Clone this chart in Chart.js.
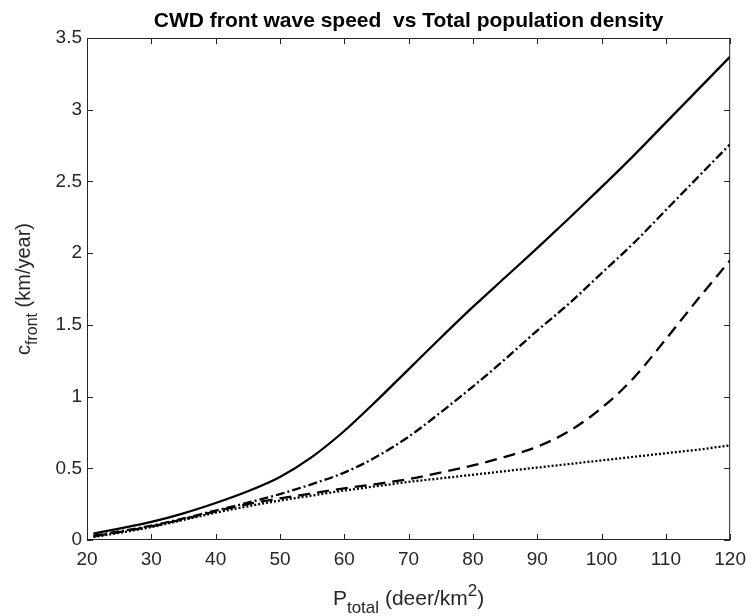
<!DOCTYPE html>
<html>
<head>
<meta charset="utf-8">
<script src="https://cdn.jsdelivr.net/npm/chart.js@4/dist/chart.umd.min.js"></script>
<style>
  html, body { margin: 0; padding: 0; background: #fff; }
  #wrap { width: 754px; height: 616px; position: relative; }
</style>
</head>
<body>
<div id="wrap"><canvas id="chart" width="754" height="616"></canvas></div>
<script>
// Total population density (deer/km^2)
const pTotal = [21, 25, 30, 35, 40, 45, 50, 55, 60, 65, 70, 75, 80, 85, 90, 95, 100, 105, 110, 115, 120];

// Front wave speed (km/year) for the four curves
const cSolid   = [0.045, 0.08, 0.126, 0.186, 0.258, 0.34, 0.44, 0.58, 0.76, 0.97, 1.19, 1.41, 1.625, 1.83, 2.035, 2.245, 2.46, 2.68, 2.91, 3.14, 3.37];
const cDashDot = [0.03, 0.06, 0.10, 0.15, 0.205, 0.26, 0.32, 0.39, 0.47, 0.58, 0.72, 0.89, 1.07, 1.26, 1.46, 1.65, 1.86, 2.07, 2.30, 2.53, 2.76];
const cDashed  = [0.025, 0.055, 0.095, 0.145, 0.2, 0.25, 0.29, 0.325, 0.36, 0.39, 0.425, 0.47, 0.52, 0.58, 0.65, 0.76, 0.92, 1.13, 1.40, 1.68, 1.95];
const cDotted  = [0.02, 0.05, 0.09, 0.14, 0.19, 0.235, 0.275, 0.31, 0.345, 0.375, 0.405, 0.43, 0.455, 0.48, 0.505, 0.53, 0.555, 0.58, 0.605, 0.63, 0.66];

const xTicks = [20, 30, 40, 50, 60, 70, 80, 90, 100, 110, 120];
const yTicks = [0, 0.5, 1, 1.5, 2, 2.5, 3, 3.5];

const titleText = 'CWD front wave speed  vs Total population density';
const axisColor = '#262626';
const fontFamily = '"Liberation Sans", Arial, Helvetica, sans-serif';

function toPoints(ys) {
    return pTotal.map((x, i) => ({ x: x, y: ys[i] }));
}

function makeLine(ys, dash) {
    return {
        data: toPoints(ys),
        borderColor: '#000',
        borderWidth: 2.3,
        borderDash: dash,
        pointRadius: 0,
        fill: false,
        cubicInterpolationMode: 'monotone'
    };
}

// Draw text with sub/superscripts, centered at (cx, cy), optionally rotated
function drawRich(ctx, parts, cx, cy, angle) {
    ctx.save();
    ctx.translate(cx, cy);
    if (angle) ctx.rotate(angle);
    ctx.fillStyle = axisColor;
    ctx.textBaseline = 'alphabetic';
    ctx.textAlign = 'left';
    let total = 0;
    parts.forEach(p => {
        ctx.font = p.size + 'px ' + fontFamily;
        p.w = ctx.measureText(p.t).width;
        total += p.w;
    });
    let x = -total / 2;
    parts.forEach(p => {
        ctx.font = p.size + 'px ' + fontFamily;
        ctx.fillText(p.t, x, p.dy);
        x += p.w;
    });
    ctx.restore();
}

const matlabAxes = {
    id: 'matlabAxes',
    afterDraw(chart) {
        const ctx = chart.ctx;
        const a = chart.chartArea;
        const xs = chart.scales.x;
        const ys = chart.scales.y;
        ctx.save();
        ctx.strokeStyle = axisColor;
        ctx.lineWidth = 1;
        ctx.strokeRect(a.left + 0.5, a.top + 0.5, a.right - a.left - 1, a.bottom - a.top - 1);

        // inward ticks on all four sides
        const len = 6;
        ctx.beginPath();
        xTicks.forEach(v => {
            const px = Math.round(xs.getPixelForValue(v)) + 0.5;
            ctx.moveTo(px, a.bottom);
            ctx.lineTo(px, a.bottom - len);
            ctx.moveTo(px, a.top);
            ctx.lineTo(px, a.top + len);
        });
        yTicks.forEach(v => {
            const py = Math.round(ys.getPixelForValue(v)) + 0.5;
            ctx.moveTo(a.left, py);
            ctx.lineTo(a.left + len, py);
            ctx.moveTo(a.right, py);
            ctx.lineTo(a.right - len, py);
        });
        ctx.stroke();

        // title
        ctx.fillStyle = '#000';
        ctx.font = 'bold 21px ' + fontFamily;
        ctx.textAlign = 'center';
        ctx.textBaseline = 'alphabetic';
        ctx.fillText(titleText, (a.left + a.right) / 2, 27);
        ctx.restore();

        // x axis label: P_total (deer/km^2)
        drawRich(ctx, [
            { t: 'P', size: 21, dy: 0 },
            { t: 'total', size: 17, dy: 8 },
            { t: ' (deer/km', size: 21, dy: 0 },
            { t: '2', size: 17, dy: -9 },
            { t: ')', size: 21, dy: 0 }
        ], (a.left + a.right) / 2, 605, 0);

        // y axis label: c_front (km/year)
        drawRich(ctx, [
            { t: 'c', size: 20, dy: 0 },
            { t: 'front', size: 16, dy: 7 },
            { t: ' (km/year)', size: 20, dy: 0 }
        ], 30, (a.top + a.bottom) / 2, -Math.PI / 2);
    }
};

new Chart(document.getElementById('chart'), {
    type: 'line',
    data: {
        datasets: [
            makeLine(cSolid, []),
            makeLine(cDashDot, [9, 3, 2, 3]),
            makeLine(cDashed, [12, 7]),
            makeLine(cDotted, [2, 2])
        ]
    },
    options: {
        responsive: false,
        animation: false,
        devicePixelRatio: 1,
        layout: { padding: { top: 38, right: 17, left: 0, bottom: 0 } },
        plugins: {
            legend: { display: false },
            title: { display: false },
            tooltip: { enabled: false }
        },
        scales: {
            x: {
                type: 'linear',
                min: 20,
                max: 120,
                afterBuildTicks: (s) => { s.ticks = xTicks.map(v => ({ value: v })); },
                afterFit: (s) => { s.height = 76; },
                grid: { display: false, drawTicks: false },
                border: { display: false },
                ticks: {
                    color: axisColor,
                    padding: 8,
                    maxRotation: 0,
                    font: { family: fontFamily, size: 19 },
                    callback: (v) => String(v)
                }
            },
            y: {
                type: 'linear',
                min: 0,
                max: 3.5,
                afterBuildTicks: (s) => { s.ticks = yTicks.map(v => ({ value: v })); },
                afterFit: (s) => { s.width = 87; },
                grid: { display: false, drawTicks: false },
                border: { display: false },
                ticks: {
                    color: axisColor,
                    padding: 5,
                    font: { family: fontFamily, size: 19 },
                    callback: (v) => String(v)
                }
            }
        }
    },
    plugins: [matlabAxes]
});
</script>
</body>
</html>
